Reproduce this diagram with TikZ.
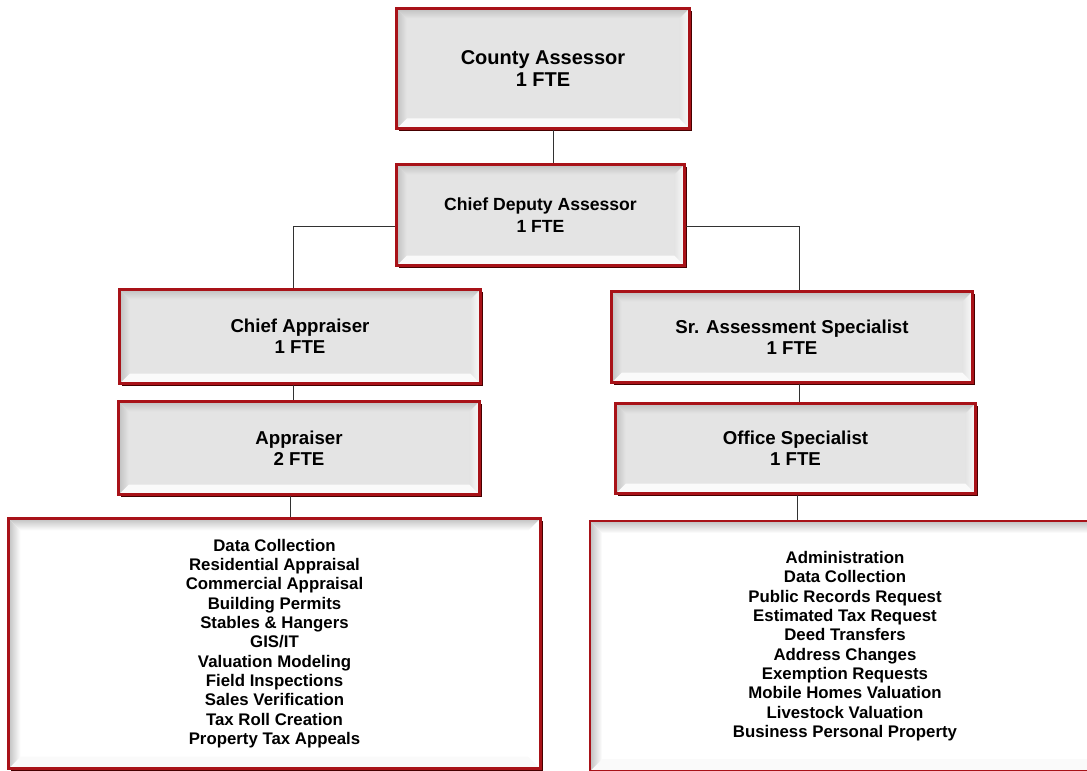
\documentclass[tikz,border=0pt]{standalone}
\usepackage{fontspec}
\setmainfont{Liberation Sans}
\usetikzlibrary{calc}

\definecolor{boxred}{RGB}{168,18,24}
\definecolor{boxshadow}{RGB}{70,0,0}
\definecolor{roleface}{RGB}{228,228,228}
\definecolor{bevdark}{RGB}{192,192,192}
\definecolor{bevlight}{RGB}{250,250,250}
\definecolor{linkgray}{RGB}{50,50,50}

% Bevelled interior of a box: #1 bevel width, #2 face colour, #3 right bevel colour
\newcommand\bevelpaint[3]{%
  \coordinate (bsw) at (path picture bounding box.south west);
  \coordinate (bne) at (path picture bounding box.north east);
  \coordinate (bnw) at (bsw |- bne);
  \coordinate (bse) at (bne |- bsw);
  \fill[#2] (bsw) rectangle (bne);
  \shade[top color=bevdark, bottom color=#2]
    (bnw) -- (bne) -- ($(bne)+(-#1,-#1)$) -- ($(bnw)+(#1,-#1)$) -- cycle;
  \fill[bevlight]
    (bsw) -- (bse) -- ($(bse)+(-#1,#1)$) -- ($(bsw)+(#1,#1)$) -- cycle;
  \shade[left color=bevdark, right color=#2]
    (bsw) -- (bnw) -- ($(bnw)+(#1,-#1)$) -- ($(bsw)+(#1,#1)$) -- cycle;
  \shade[left color=#2, right color=#3]
    (bse) -- (bne) -- ($(bne)+(-#1,-#1)$) -- ($(bse)+(-#1,#1)$) -- cycle;
}

\tikzset{
  orgbox/.style={rectangle, draw=boxred, line width=2pt, align=center,
    inner sep=0pt, font=\bfseries\fontsize{14}{16}\selectfont,
    preaction={fill=boxshadow, transform canvas={shift={(1.6pt,-1.6pt)}}},
    path picture={\bevelpaint{7.5pt}{roleface}{bevlight}}},
  listbox/.style={orgbox, font=\bfseries\fontsize{12.6}{14.5}\selectfont,
    path picture={\bevelpaint{9pt}{white}{white}}},
  sz/.style 2 args={minimum width={#1*0.75pt}, minimum height={#2*0.75pt}},
  link/.style={draw=linkgray, line width=0.7pt},
}

\begin{document}
\begin{tikzpicture}[x=0.75pt, y=-0.75pt]
\useasboundingbox (0,0) rectangle (1087,770);
\clip (0,0) rectangle (1087,770);

% role boxes
\node[orgbox, sz={293}{120}, font=\bfseries\fontsize{15}{16.5}\selectfont]
  (ca) at (543,68.5) {County Assessor\\1 FTE};
\node[orgbox, sz={288}{101}, font=\bfseries\fontsize{13.2}{16}\selectfont]
  (cda) at (540.5,215) {Chief Deputy Assessor\\1 FTE};
\node[orgbox, sz={361}{94}] (chap) at (300,336.5) {Chief Appraiser\\1 FTE};
\node[orgbox, sz={361}{93}] (app) at (299,448) {Appraiser\\2 FTE};
\node[orgbox, sz={361}{91}] (sr) at (792,337) {Sr. Assessment Specialist\\1 FTE};
\node[orgbox, sz={360}{90}] (off) at (795.5,448.5) {Office Specialist\\1 FTE};

% duty lists
\node[listbox, sz={532}{250}] (llist) at (274.5,643.5) {Data Collection\\
  Residential Appraisal\\Commercial Appraisal\\Building Permits\\
  Stables \& Hangers\\GIS/IT\\Valuation Modeling\\Field Inspections\\
  Sales Verification\\Tax Roll Creation\\Property Tax Appeals};
\node[listbox, sz={510}{250}] (rlist) at (845,646) {Administration\\
  Data Collection\\Public Records Request\\Estimated Tax Request\\
  Deed Transfers\\Address Changes\\Exemption Requests\\
  Mobile Homes Valuation\\Livestock Valuation\\Business Personal Property};

% connector guide positions
\coordinate (xa) at (553,0);
\coordinate (hy) at (0,226);
\coordinate (xl) at (293,0);
\coordinate (xr) at (799,0);
\coordinate (xl2) at (290,0);
\coordinate (xr2) at (797,0);

% connectors
\draw[link] (ca.south -| xa) -- (cda.north -| xa);
\draw[link] (cda.west |- hy) -| (chap.north -| xl);
\draw[link] (cda.east |- hy) -| (sr.north -| xr);
\draw[link] (chap.south -| xl) -- (app.north -| xl);
\draw[link] (app.south -| xl2) -- (llist.north -| xl2);
\draw[link] (sr.south -| xr) -- (off.north -| xr);
\draw[link] (off.south -| xr2) -- (rlist.north -| xr2);
\end{tikzpicture}
\end{document}
